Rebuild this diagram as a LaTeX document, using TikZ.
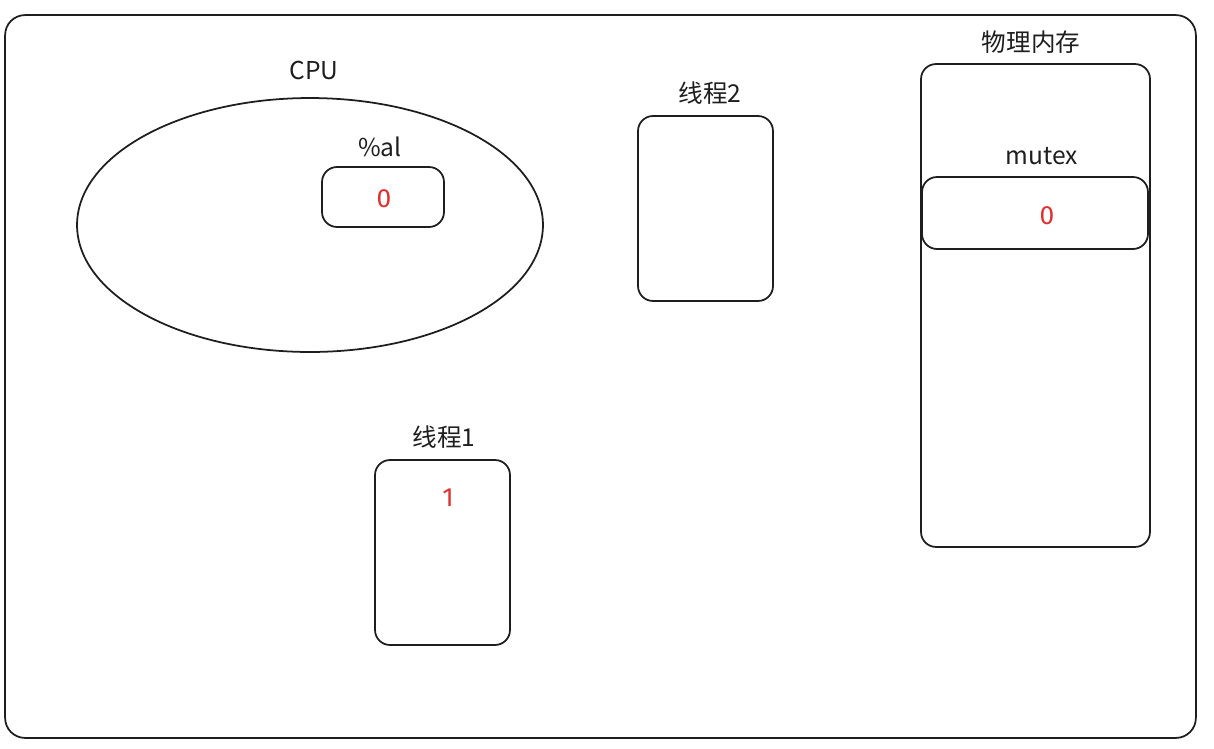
\documentclass[tikz,border=0pt]{standalone}
\usepackage{fontspec}
\usetikzlibrary{shapes.geometric}
\setmainfont{Fira Sans}
\newfontfamily\cjk{Noto Sans CJK SC}
\definecolor{mmink}{HTML}{1E1E1E}
\definecolor{mmred}{HTML}{E03131}

\begin{document}
\begin{tikzpicture}[x=0.02cm,y=-0.02cm,
  box/.style={draw=mmink,line width=1pt,rounded corners=0.3cm,inner sep=0pt},
  lbl/.style={font=\cjk\fontsize{14}{16}\selectfont,text=mmink},
  val/.style={font=\fontsize{15}{17}\selectfont,text=mmred}]
  \useasboundingbox (0,0) rectangle (1214,748);
  \node[box,rounded corners=0.4cm,minimum width=23.82cm,minimum height=14.46cm] (frame) at (600.5,376.5) {};
  % cpu with its register
  \node[draw=mmink,line width=1pt,ellipse,minimum width=9.32cm,minimum height=5.08cm] (cpu) at (310,225) {};
  \node[lbl] (cpulbl) at (314,70) {CPU};
  \node[box,minimum width=2.44cm,minimum height=1.2cm] (al) at (383,197) {};
  \node[lbl] (allbl) at (380,147) {\%al};
  \node[val] (alval) at (384,199) {0};
  % threads
  \foreach \n/\x/\y in {1/442.5/552.5,2/705.5/208.5}{
    \node[box,minimum width=2.7cm,minimum height=3.7cm] (t\n) at (\x,\y) {};
  }
  \node[lbl] (t1lbl) at (444,437) {线程1};
  \node[lbl] (t2lbl) at (710,93) {线程2};
  \node[val] (t1val) at (448,498) {1};
  % memory
  \node[box,minimum width=4.58cm,minimum height=9.66cm] (mem) at (1035.5,305.5) {};
  \node[lbl] (memlbl) at (1031,42) {物理内存};
  \node[box,minimum width=4.52cm,minimum height=1.44cm] (mutex) at (1035,213) {};
  \node[lbl] (mutexlbl) at (1042,156) {mutex};
  \node[val] (mutexval) at (1047,216) {0};
\end{tikzpicture}
\end{document}
